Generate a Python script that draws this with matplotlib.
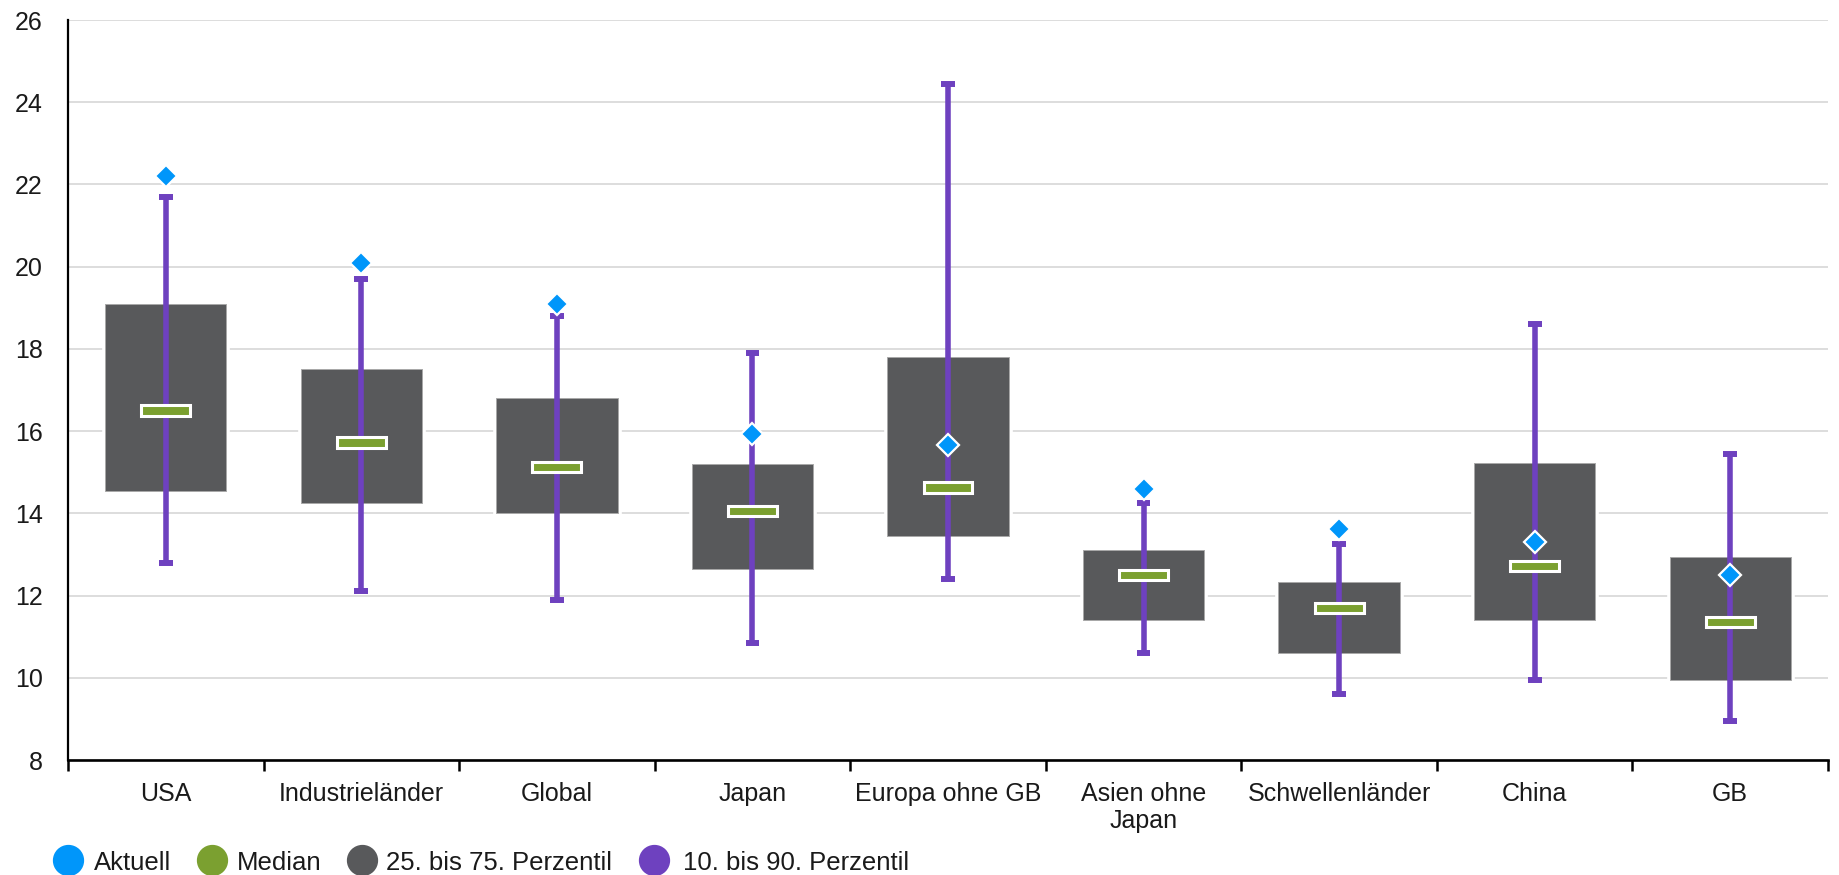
import matplotlib
matplotlib.use("Agg")
import matplotlib.pyplot as plt
from matplotlib.lines import Line2D
import numpy as np

categories = ["USA", "Industrieländer", "Global", "Japan", "Europa ohne GB",
              "Asien ohne\nJapan", "Schwellenländer", "China", "GB"]
p10 = [12.8, 12.1, 11.9, 10.85, 12.4, 10.6, 9.6, 9.95, 8.95]
p90 = [21.7, 19.7, 18.8, 17.9, 24.45, 14.25, 13.25, 18.6, 15.45]
p25 = [14.55, 14.25, 14.0, 12.65, 13.45, 11.4, 10.6, 11.4, 9.95]
p75 = [19.1, 17.5, 16.8, 15.2, 17.8, 13.1, 12.33, 15.22, 12.95]
median = [16.5, 15.72, 15.13, 14.05, 14.63, 12.5, 11.7, 12.72, 11.35]
aktuell = [22.2, 20.08, 19.08, 15.92, 15.67, 14.6, 13.62, 13.3, 12.5]

legend_labels = ["Aktuell", "Median", "25. bis 75. Perzentil", "10. bis 90. Perzentil"]

c_blue = "#0096FA"
c_green = "#7BA030"
c_gray = "#58595B"
c_purple = "#6E41BF"
c_grid = "#D3D3D3"
c_text = "#1a1a1a"
legend_colors = [c_blue, c_green, c_gray, c_purple]

plt.rcParams['font.family'] = ['Liberation Sans', 'DejaVu Sans']
plt.rcParams['savefig.bbox'] = 'standard'

W, H = 1840, 875
fig = plt.figure(figsize=(W / 100, H / 100), dpi=100)
ax = fig.add_axes([68 / W, 1 - 760 / H, (1828 - 68) / W, (760 - 20) / H])

x = np.arange(len(categories))
p10a, p90a = np.array(p10), np.array(p90)
p25a, p75a = np.array(p25), np.array(p75)
meda = np.array(median)

ax.set_ylim(8, 26)
ax.set_xlim(-0.5, len(categories) - 0.5)
ax.set_yticks(np.arange(8, 27, 2))
ax.yaxis.grid(True, color=c_grid, linewidth=1.1, zorder=0)
ax.set_axisbelow(True)

box_w = 0.62
# white halo around boxes (interrupts gridlines)
ax.bar(x, p75a - p25a, bottom=p25a, width=box_w, color="white",
       edgecolor="white", linewidth=4.8, zorder=1)
ax.bar(x, p75a - p25a, bottom=p25a, width=box_w, color=c_gray,
       edgecolor="#A8A8A8", linewidth=0.7, zorder=2)

# whiskers
ax.vlines(x, p10a, p90a, color=c_purple, linewidth=4.0, zorder=3)
cap_w = 0.071
ax.hlines(p10a, x - cap_w / 2, x + cap_w / 2, color=c_purple, linewidth=4.3, zorder=3)
ax.hlines(p90a, x - cap_w / 2, x + cap_w / 2, color=c_purple, linewidth=4.3, zorder=3)

# median bars
med_h = 0.25
ax.bar(x, med_h, bottom=meda - med_h / 2, width=0.25, color=c_green,
       edgecolor="white", linewidth=2.2, zorder=4)

# current values
ax.plot(x, aktuell, linestyle="none", marker="D", markersize=11.2,
        markerfacecolor=c_blue, markeredgecolor="white", markeredgewidth=1.6, zorder=5)

# axes styling
for s in ["top", "right"]:
    ax.spines[s].set_visible(False)
ax.spines["left"].set_linewidth(1.6)
ax.spines["bottom"].set_linewidth(1.9)
ax.spines["left"].set_color("black")
ax.spines["bottom"].set_color("black")

ax.tick_params(axis="y", length=0, pad=18, labelsize=18, labelcolor=c_text)
ax.set_xticks(x)
ax.set_xticklabels(categories, fontsize=18, color=c_text, linespacing=1.17)
ax.tick_params(axis="x", which="major", length=0, pad=16)
ax.set_xticks(np.arange(-0.5, len(categories), 1.0), minor=True)
ax.tick_params(axis="x", which="minor", length=8, width=1.8, color="black")

# legend (manual, one row below the axis)
leg_y = 1 - 860 / H
marker_x = [68, 212, 362, 654]
text_x = [94, 237, 386, 683]
for mx, tx, col, lab in zip(marker_x, text_x, legend_colors, legend_labels):
    fig.add_artist(Line2D([mx / W], [leg_y], transform=fig.transFigure,
                          linestyle="none", marker="o", markersize=21.5,
                          markerfacecolor=col, markeredgecolor=col))
    fig.text(tx / W, leg_y, lab, fontsize=18.5, color=c_text,
             ha="left", va="center_baseline")

fig.savefig("out.png", dpi=100, facecolor="white", bbox_inches=None)
